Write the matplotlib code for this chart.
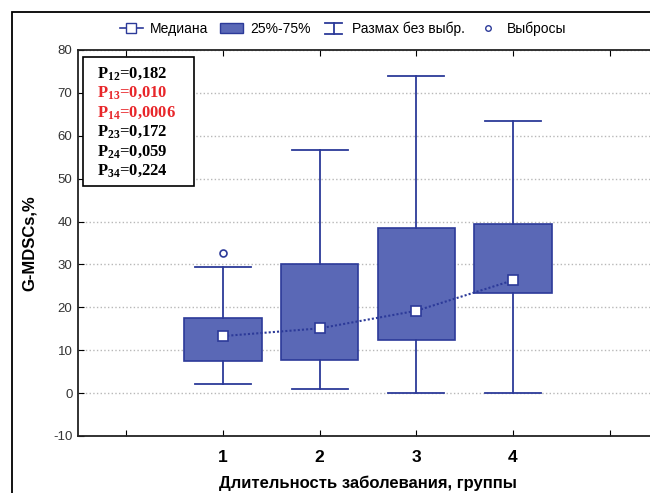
import matplotlib
matplotlib.use('Agg')
import matplotlib.pyplot as plt
from matplotlib.lines import Line2D
from matplotlib.patches import Patch, Rectangle
from matplotlib.legend_handler import HandlerBase

# Data
groups = [1, 2, 3, 4]
whisker_low = [2.1, 1.0, 0.0, 0.0]
q1 = [7.4, 7.8, 12.3, 23.3]
medians = [13.3, 15.1, 19.2, 26.3]
q3 = [17.4, 30.2, 38.6, 39.5]
whisker_high = [29.5, 56.7, 74.0, 63.5]
outliers = [[32.7], [], [], []]

p_labels = ['P$_{12}$=0,182', 'P$_{13}$=0,010', 'P$_{14}$=0,0006',
            'P$_{23}$=0,172', 'P$_{24}$=0,059', 'P$_{34}$=0,224']
p_colors = ['black', '#e8262a', '#e8262a', 'black', 'black', 'black']

plt.rcParams['font.family'] = ['Liberation Sans', 'DejaVu Sans']
plt.rcParams['mathtext.default'] = 'regular'
plt.rcParams['axes.unicode_minus'] = False

line_col = '#2c3a99'
box_col = '#5a68b6'


class WhiskerHandler(HandlerBase):
    # "I" shaped icon for the range legend entry
    def create_artists(self, legend, orig_handle, xd, yd, width, height, fontsize, trans):
        x0, x1 = xd + 0.15 * width, xd + 0.85 * width
        xm = xd + width / 2
        y0, y1 = yd - 0.1 * height, yd + 1.1 * height
        arts = [Line2D([x0, x1], [y0, y0]), Line2D([x0, x1], [y1, y1]), Line2D([xm, xm], [y0, y1])]
        for a in arts:
            a.set_color(line_col)
            a.set_linewidth(1.3)
            a.set_transform(trans)
        return arts


fig = plt.figure(figsize=(6.5, 4.93), dpi=100)
ax = fig.add_axes([78 / 650, 57 / 493, 580 / 650, 386 / 493])

stats = []
for i in range(len(groups)):
    stats.append(dict(med=medians[i], q1=q1[i], q3=q3[i],
                      whislo=whisker_low[i], whishi=whisker_high[i], fliers=outliers[i]))

ax.bxp(stats, positions=groups, widths=0.8, capwidths=0.58, patch_artist=True,
       boxprops=dict(facecolor=box_col, edgecolor=line_col, linewidth=1.2),
       whiskerprops=dict(color=line_col, linewidth=1.3),
       capprops=dict(color=line_col, linewidth=1.3),
       medianprops=dict(linewidth=0),
       flierprops=dict(marker='o', markersize=5, markerfacecolor='white',
                       markeredgecolor=line_col, markeredgewidth=1.2),
       zorder=3)

ax.plot(groups, medians, color=line_col, linewidth=1.5, linestyle=(0, (1, 1)), zorder=4)
ax.plot(groups, medians, color=line_col, linewidth=0, marker='s', markersize=7,
        markerfacecolor='white', markeredgecolor=line_col, markeredgewidth=1.2, zorder=5)

ax.set_xlim(-0.5, 5.5)
ax.set_ylim(-10, 80)
ax.set_xticks([0, 1, 2, 3, 4, 5])
ax.set_xticklabels(['', '1', '2', '3', '4', ''], fontsize=12.5, fontweight='bold')
ax.set_yticks(range(-10, 81, 10))
ax.tick_params(axis='y', labelsize=9.5, labelcolor='#333333', direction='in',
               right=True, length=4, pad=4)
ax.tick_params(axis='x', direction='in', top=True, length=4, pad=10)
ax.grid(axis='y', linestyle=':', color='#b8b8b8', linewidth=1)
ax.set_axisbelow(True)
for s in ax.spines.values():
    s.set_linewidth(1.3)
    s.set_color('#222222')

ax.set_ylabel('G-MDSCs,%', fontsize=12, fontweight='bold', labelpad=12)
ax.set_xlabel('Длительность заболевания, группы', fontsize=12, fontweight='bold', labelpad=8)

# p-value box
ax.add_patch(Rectangle((0.009, 0.648), 0.191, 0.334, transform=ax.transAxes,
                       facecolor='white', edgecolor='black', linewidth=1.2, zorder=6))
for i, (lab, col) in enumerate(zip(p_labels, p_colors)):
    ax.text(0.033, 0.940 - i * 0.0505, lab, transform=ax.transAxes, color=col,
            fontsize=12, fontweight='bold', family='Liberation Serif', va='center', zorder=7)

# legend
handles = [Line2D([], [], color=line_col, marker='s', markersize=7, markerfacecolor='white',
                  markeredgecolor=line_col, linewidth=1.2),
           Patch(facecolor=box_col, edgecolor=line_col),
           Line2D([], []),
           Line2D([], [], linestyle='none', marker='o', markersize=4, markerfacecolor='white',
                  markeredgecolor=line_col)]
labels = ['Медиана', '25%-75%', 'Размах без выбр.', 'Выбросы']
fig.legend(handles, labels, loc='center', bbox_to_anchor=(343 / 650, 1 - 29 / 493), ncol=4,
           frameon=False, fontsize=10, handlelength=1.7, handletextpad=0.5, columnspacing=0.8,
           handler_map={handles[2]: WhiskerHandler()})

# outer frame of the figure
fig.add_artist(Rectangle((12 / 650, -0.1), 1.2, 1.1 - 12 / 493, transform=fig.transFigure,
                         fill=False, edgecolor='black', linewidth=1.3, clip_on=False))

fig.savefig('out.png', dpi=100)
